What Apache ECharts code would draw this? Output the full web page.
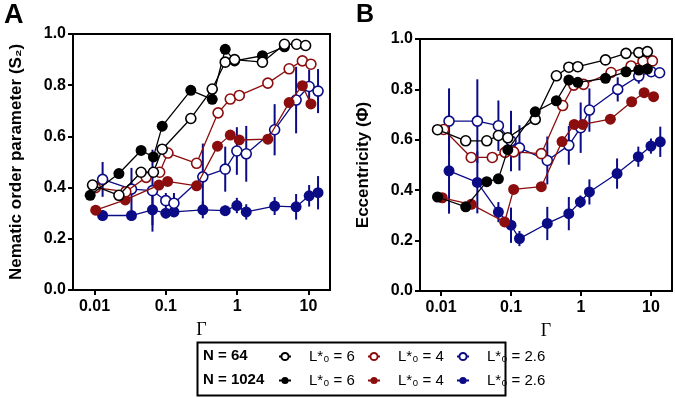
<!DOCTYPE html>
<html>
<head>
<meta charset="utf-8">
<script src="https://cdn.jsdelivr.net/npm/echarts@6.0.0/dist/echarts.min.js"></script>
<style>
  html, body { margin: 0; padding: 0; background: #fff; }
  #chart-container { width: 675px; height: 398px; }
</style>
</head>
<body>
<div id="chart-container"></div>
<script>
var dom = document.getElementById("chart-container");
var myChart = echarts.init(dom, null, { renderer: "canvas" });

var BLACK = "#000000";
var RED = "#8b0d0d";
var BLUE = "#0b0b86";
var FONT = "Liberation Sans";

var decades = [0.01, 0.1, 1, 10];

// ---- Panel A : nematic order parameter S2 ----
var A_o6_x = [0.0094, 0.022, 0.045, 0.067, 0.089, 0.224, 0.447, 0.68, 0.92, 2.26, 4.6, 6.8, 9.1];
var A_o6_y = [0.41, 0.37, 0.46, 0.46, 0.55, 0.67, 0.785, 0.89, 0.9, 0.89, 0.96, 0.96, 0.955];
var A_f6_x = [0.0087, 0.022, 0.045, 0.067, 0.089, 0.224, 0.447, 0.68, 0.92, 2.26, 4.6];
var A_f6_y = [0.37, 0.455, 0.545, 0.52, 0.64, 0.78, 0.745, 0.94, 0.895, 0.915, 0.95];
var A_o4_x = [0.0103, 0.0275, 0.053, 0.082, 0.107, 0.27, 0.54, 0.8, 1.07, 2.69, 5.35, 8.2, 10.8];
var A_o4_y = [0.4, 0.384, 0.44, 0.46, 0.535, 0.495, 0.692, 0.746, 0.76, 0.808, 0.864, 0.895, 0.882];
var A_f4_x = [0.0104, 0.027, 0.08, 0.106, 0.27, 0.53, 0.8, 1.07, 2.69, 5.35, 8.2, 10.8];
var A_f4_y = [0.312, 0.352, 0.41, 0.424, 0.407, 0.562, 0.605, 0.586, 0.589, 0.732, 0.798, 0.727];
var A_o26_x = [0.013, 0.033, 0.065, 0.1, 0.13, 0.33, 0.68, 0.99, 1.34, 3.35, 6.7, 10.2, 13.6];
var A_o26_y = [0.432, 0.394, 0.388, 0.349, 0.339, 0.442, 0.472, 0.543, 0.532, 0.626, 0.742, 0.795, 0.777];
var A_o26_e = [0.068, 0.083, 0.16, 0.03, 0.04, 0.13, 0.088, 0.093, 0.109, 0.1, 0.13, 0.066, 0.086];
var A_f26_x = [0.013, 0.033, 0.065, 0.1, 0.13, 0.33, 0.68, 0.99, 1.34, 3.35, 6.7, 10.2, 13.6];
var A_f26_y = [0.291, 0.291, 0.313, 0.3, 0.305, 0.313, 0.31, 0.33, 0.305, 0.328, 0.325, 0.368, 0.38];
var A_f26_e = [0.02, 0.02, 0.06, 0.02, 0.02, 0.033, 0.02, 0.03, 0.03, 0.035, 0.05, 0.042, 0.065];

// ---- Panel B : eccentricity ----
var B_o6_x = [0.0089, 0.0225, 0.045, 0.066, 0.09, 0.222, 0.445, 0.67, 0.9, 2.24, 4.4, 6.7, 8.9];
var B_o6_y = [0.64, 0.596, 0.596, 0.617, 0.608, 0.681, 0.854, 0.888, 0.89, 0.917, 0.943, 0.946, 0.95];
var B_f6_x = [0.0089, 0.0225, 0.045, 0.066, 0.09, 0.222, 0.445, 0.67, 0.9, 2.24, 4.4, 6.7, 8.9];
var B_f6_y = [0.373, 0.334, 0.434, 0.445, 0.561, 0.711, 0.755, 0.837, 0.828, 0.844, 0.87, 0.877, 0.881];
var B_o4_x = [0.0109, 0.027, 0.054, 0.082, 0.109, 0.271, 0.547, 0.79, 1.09, 2.69, 5.2, 7.7, 10.5];
var B_o4_y = [0.641, 0.53, 0.53, 0.55, 0.552, 0.545, 0.736, 0.817, 0.82, 0.867, 0.893, 0.912, 0.913];
var B_f4_x = [0.0104, 0.027, 0.081, 0.109, 0.271, 0.536, 0.8, 1.06, 2.63, 5.3, 8, 10.9];
var B_f4_y = [0.37, 0.344, 0.274, 0.403, 0.414, 0.593, 0.661, 0.661, 0.682, 0.751, 0.787, 0.771];
var B_o26_x = [0.013, 0.033, 0.066, 0.1, 0.132, 0.33, 0.67, 0.99, 1.32, 3.35, 6.7, 10.1, 13.3];
var B_o26_y = [0.674, 0.674, 0.656, 0.595, 0.568, 0.518, 0.578, 0.648, 0.718, 0.8, 0.853, 0.87, 0.866];
var B_o26_e = [0.13, 0.166, 0.1, 0.12, 0.09, 0.095, 0.077, 0.1, 0.086, 0.048, 0.03, 0.02, 0.02];
var B_f26_x = [0.013, 0.033, 0.066, 0.1, 0.132, 0.33, 0.67, 0.98, 1.32, 3.28, 6.6, 10, 13.6];
var B_f26_y = [0.477, 0.431, 0.313, 0.261, 0.208, 0.268, 0.307, 0.354, 0.393, 0.466, 0.533, 0.575, 0.592];
var B_f26_e = [0.17, 0.123, 0.04, 0.07, 0.03, 0.066, 0.066, 0.025, 0.05, 0.06, 0.04, 0.03, 0.06];

var legendNames = {
  o6: "L*\u2080 = 6", o4: "L*\u2080 = 4", o26: "L*\u2080 = 2.6",
  f6: "L*\u2080 = 6", f4: "L*\u2080 = 4", f26: "L*\u2080 = 2.6"
};

function pairs(xs, ys) {
  return xs.map(function (x, i) { return [x, ys[i]]; });
}

function lineSeries(name, idx, xs, ys, color, open, z) {
  return {
    name: name,
    type: "line",
    xAxisIndex: idx,
    yAxisIndex: idx,
    data: pairs(xs, ys),
    symbol: "circle",
    symbolSize: open ? 10 : 11,
    z: z,
    lineStyle: { color: color, width: 1.3 },
    itemStyle: {
      color: open ? "#ffffff" : color,
      borderColor: color,
      borderWidth: open ? 1.6 : 0
    },
    emphasis: { disabled: true },
    animation: false
  };
}

function errSeries(idx, xs, ys, es, color) {
  return {
    type: "custom",
    xAxisIndex: idx,
    yAxisIndex: idx,
    z: 1,
    silent: true,
    animation: false,
    data: xs.map(function (x, i) { return [x, ys[i] - es[i], ys[i] + es[i]]; }),
    encode: { x: 0, y: [1, 2] },
    renderItem: function (params, api) {
      var lo = api.coord([api.value(0), api.value(1)]);
      var hi = api.coord([api.value(0), api.value(2)]);
      return {
        type: "line",
        shape: { x1: lo[0], y1: lo[1], x2: hi[0], y2: hi[1] },
        style: { stroke: color, lineWidth: 2 }
      };
    }
  };
}

function xAxisFor(idx) {
  return {
    type: "log",
    gridIndex: idx,
    min: 0.005,
    max: 20,
    name: "\u0393",
    nameLocation: "middle",
    nameGap: 31,
    nameTextStyle: { fontFamily: "Liberation Serif", fontSize: 18, color: "#000" },
    axisLine: { lineStyle: { color: "#000", width: 2 } },
    axisTick: { customValues: decades, length: 5, lineStyle: { color: "#000", width: 2 } },
    axisLabel: {
      customValues: decades,
      color: "#000",
      fontFamily: FONT,
      fontWeight: "bold",
      fontSize: 16,
      margin: 9,
      formatter: function (v) { return v >= 1 ? String(Math.round(v)) : String(+v.toPrecision(1)); }
    },
    splitLine: { show: false },
    minorTick: { show: false }
  };
}

function yAxisFor(idx, title, gap) {
  return {
    type: "value",
    gridIndex: idx,
    min: 0,
    max: 1,
    interval: 0.2,
    name: title,
    nameLocation: "middle",
    nameRotate: 90,
    nameGap: gap,
    nameTextStyle: { fontFamily: FONT, fontWeight: "bold", fontSize: 17, color: "#000" },
    axisLine: { lineStyle: { color: "#000", width: 2 } },
    axisTick: { length: 5, lineStyle: { color: "#000", width: 2 } },
    axisLabel: {
      color: "#000",
      fontFamily: FONT,
      fontWeight: "bold",
      fontSize: 16,
      margin: 7,
      formatter: function (v) { return v.toFixed(1); }
    },
    splitLine: { show: false }
  };
}

function legendItem(name, left, top) {
  return {
    data: [name],
    left: left,
    top: top,
    padding: 0,
    itemWidth: 12,
    itemHeight: 9,
    selectedMode: false,
    formatter: function (n) { return "{t|" + legendNames[n] + "}"; },
    textStyle: {
      color: "#000",
      fontFamily: FONT,
      fontSize: 15,
      rich: { t: { fontFamily: FONT, fontSize: 15, color: "#000", padding: [0, 0, 0, 13] } }
    }
  };
}

var legendCols = [278, 367, 456];
var legendRows = [349, 373];

var option = {
  backgroundColor: "#fff",
  animation: false,
  textStyle: { fontFamily: FONT },
  grid: [
    { left: 73, top: 34, right: 345, bottom: 108, show: true, borderColor: "#000", borderWidth: 2, backgroundColor: "transparent" },
    { left: 420, top: 39, right: 3, bottom: 107, show: true, borderColor: "#000", borderWidth: 2, backgroundColor: "transparent" }
  ],
  xAxis: [xAxisFor(0), xAxisFor(1)],
  yAxis: [
    yAxisFor(0, "Nematic order parameter (S\u2082)", 48),
    yAxisFor(1, "Eccentricity (\u03a6)", 48)
  ],
  legend: [
    legendItem("o6", legendCols[0], legendRows[0]),
    legendItem("o4", legendCols[1], legendRows[0]),
    legendItem("o26", legendCols[2], legendRows[0]),
    legendItem("f6", legendCols[0], legendRows[1]),
    legendItem("f4", legendCols[1], legendRows[1]),
    legendItem("f26", legendCols[2], legendRows[1])
  ],
  graphic: [
    { type: "text", left: 4, top: 2, style: { text: "A", fontFamily: FONT, fontWeight: "bold", fontSize: 27, fill: "#000" } },
    { type: "text", left: 356, top: 3, style: { text: "B", fontFamily: FONT, fontWeight: "bold", fontSize: 25, fill: "#000" } },
    { type: "rect", left: 195, top: 340, shape: { width: 308, height: 53 }, style: { fill: "none", stroke: "#000", lineWidth: 2 } },
    { type: "text", left: 203, top: 348, style: { text: "N = 64", fontFamily: FONT, fontWeight: "bold", fontSize: 15, fill: "#000" } },
    { type: "text", left: 203, top: 372, style: { text: "N = 1024", fontFamily: FONT, fontWeight: "bold", fontSize: 15, fill: "#000" } }
  ],
  series: [
    // error bars under the markers
    errSeries(0, A_o26_x, A_o26_y, A_o26_e, BLUE),
    errSeries(0, A_f26_x, A_f26_y, A_f26_e, BLUE),
    errSeries(1, B_o26_x, B_o26_y, B_o26_e, BLUE),
    errSeries(1, B_f26_x, B_f26_y, B_f26_e, BLUE),

    lineSeries("f26", 0, A_f26_x, A_f26_y, BLUE, false, 2),
    lineSeries("o26", 0, A_o26_x, A_o26_y, BLUE, true, 3),
    lineSeries("f4", 0, A_f4_x, A_f4_y, RED, false, 4),
    lineSeries("o4", 0, A_o4_x, A_o4_y, RED, true, 5),
    lineSeries("f6", 0, A_f6_x, A_f6_y, BLACK, false, 6),
    lineSeries("o6", 0, A_o6_x, A_o6_y, BLACK, true, 7),

    lineSeries("f26", 1, B_f26_x, B_f26_y, BLUE, false, 2),
    lineSeries("o26", 1, B_o26_x, B_o26_y, BLUE, true, 3),
    lineSeries("o4", 1, B_o4_x, B_o4_y, RED, true, 4),
    lineSeries("f4", 1, B_f4_x, B_f4_y, RED, false, 5),
    lineSeries("o6", 1, B_o6_x, B_o6_y, BLACK, true, 6),
    lineSeries("f6", 1, B_f6_x, B_f6_y, BLACK, false, 7)
  ]
};

myChart.setOption(option);

window.addEventListener("resize", function () {
  myChart.resize();
});
</script>
</body>
</html>
